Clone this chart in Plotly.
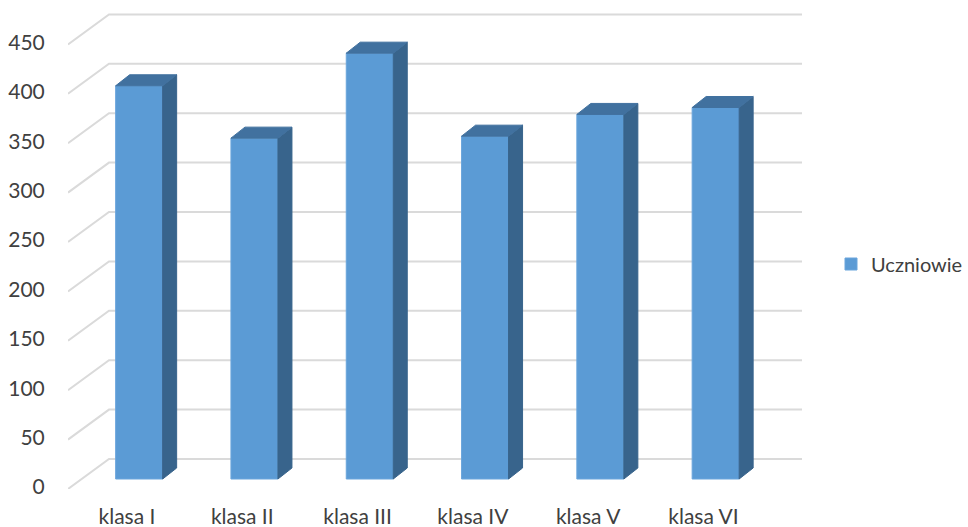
import plotly.graph_objects as go

categories = ["klasa I", "klasa II", "klasa III", "klasa IV", "klasa V", "klasa VI"]
uczniowie = [398, 345, 431, 347, 369, 376]
y_ticks = [0, 50, 100, 150, 200, 250, 300, 350, 400, 450]
series_name = "Uczniowie"

# Depth effect, in axis units
PX_X = 115.3            # pixels per category
PX_Y = 0.988            # pixels per value unit
WALL_DX = 41 / PX_X
WALL_DY = 30 / PX_Y
BAR_SHIFT = 12.2 / PX_X
BAR_LIFT = 10 / PX_Y
BAR_W = 47 / PX_X
BAR_DX = 14 / PX_X
BAR_DY = 11 / PX_Y
X_MIN = -0.5 - 1.3 / PX_X
X_MAX = X_MIN + (802 - 68) / PX_X
Y_MIN, Y_MAX = 0, (489 - 5) / PX_Y

GRID = "#DADADA"
FRONT = "#5B9BD5"
SIDE = "#38648C"
TOP = "#41719F"
TEXT = "#404040"
FONT = "Lato"

fig = go.Figure()

# Back wall and side wall lines (base subplot, under the bars)
for v in y_ticks:
    fig.add_trace(go.Scatter(
        x=[X_MIN, X_MIN + WALL_DX, X_MAX], y=[v, v + WALL_DY, v + WALL_DY],
        mode="lines", line=dict(color=GRID, width=2), showlegend=False, hoverinfo="skip",
    ))

xs = [i + BAR_SHIFT for i in range(len(categories))]
fig.add_trace(go.Bar(
    x=xs, y=uczniowie, base=BAR_LIFT, width=BAR_W, yaxis="y2", name=series_name,
    marker=dict(color=FRONT, line=dict(color="#6AA5DC", width=1)),
))

side_x, side_y, top_x, top_y = [], [], [], []
for x, v in zip(xs, uczniowie):
    r = x + BAR_W / 2
    l = x - BAR_W / 2
    b = BAR_LIFT
    t = BAR_LIFT + v
    side_x += [r, r + BAR_DX, r + BAR_DX, r, r, None]
    side_y += [b, b + BAR_DY, t + BAR_DY, t, b, None]
    top_x += [l, l + BAR_DX, r + BAR_DX, r, l, None]
    top_y += [t, t + BAR_DY, t + BAR_DY, t, t, None]

for px, py, c in [(side_x, side_y, SIDE), (top_x, top_y, TOP)]:
    fig.add_trace(go.Scatter(
        x=px, y=py, yaxis="y2", mode="lines", fill="toself", fillcolor=c,
        line=dict(color=c, width=1), showlegend=False, hoverinfo="skip",
    ))

fig.update_layout(
    width=968, height=527,
    margin=dict(l=68, r=0, t=5, b=38),
    paper_bgcolor="white", plot_bgcolor="white",
    font=dict(family=FONT, size=21, color=TEXT),
    showlegend=True,
    legend=dict(x=1, y=1 - (264 - 5) / 484, xanchor="right", yanchor="middle",
                entrywidth=84, entrywidthmode="pixels",
                font=dict(family=FONT, size=20, color=TEXT), itemwidth=30),
    xaxis=dict(domain=[0, (802 - 68) / 900], range=[X_MIN, X_MAX], tickmode="array",
               tickvals=list(range(len(categories))), automargin=False,
               ticktext=categories, showgrid=False, zeroline=False, showline=False,
               ticks="outside", ticklen=9, tickcolor="rgba(0,0,0,0)"),
    yaxis=dict(range=[Y_MIN, Y_MAX], tickmode="array", tickvals=y_ticks, automargin=False,
               ticktext=[str(v) for v in y_ticks], showgrid=False, zeroline=False,
               showline=False, ticks="outside", ticklen=18, tickcolor="rgba(0,0,0,0)",
               ticklabelshift=-2),
    yaxis2=dict(range=[Y_MIN, Y_MAX], overlaying="y", visible=False),
)

fig.write_html("out.html", config={"displayModeBar": False},
               post_script="document.body.style.margin='0';")
